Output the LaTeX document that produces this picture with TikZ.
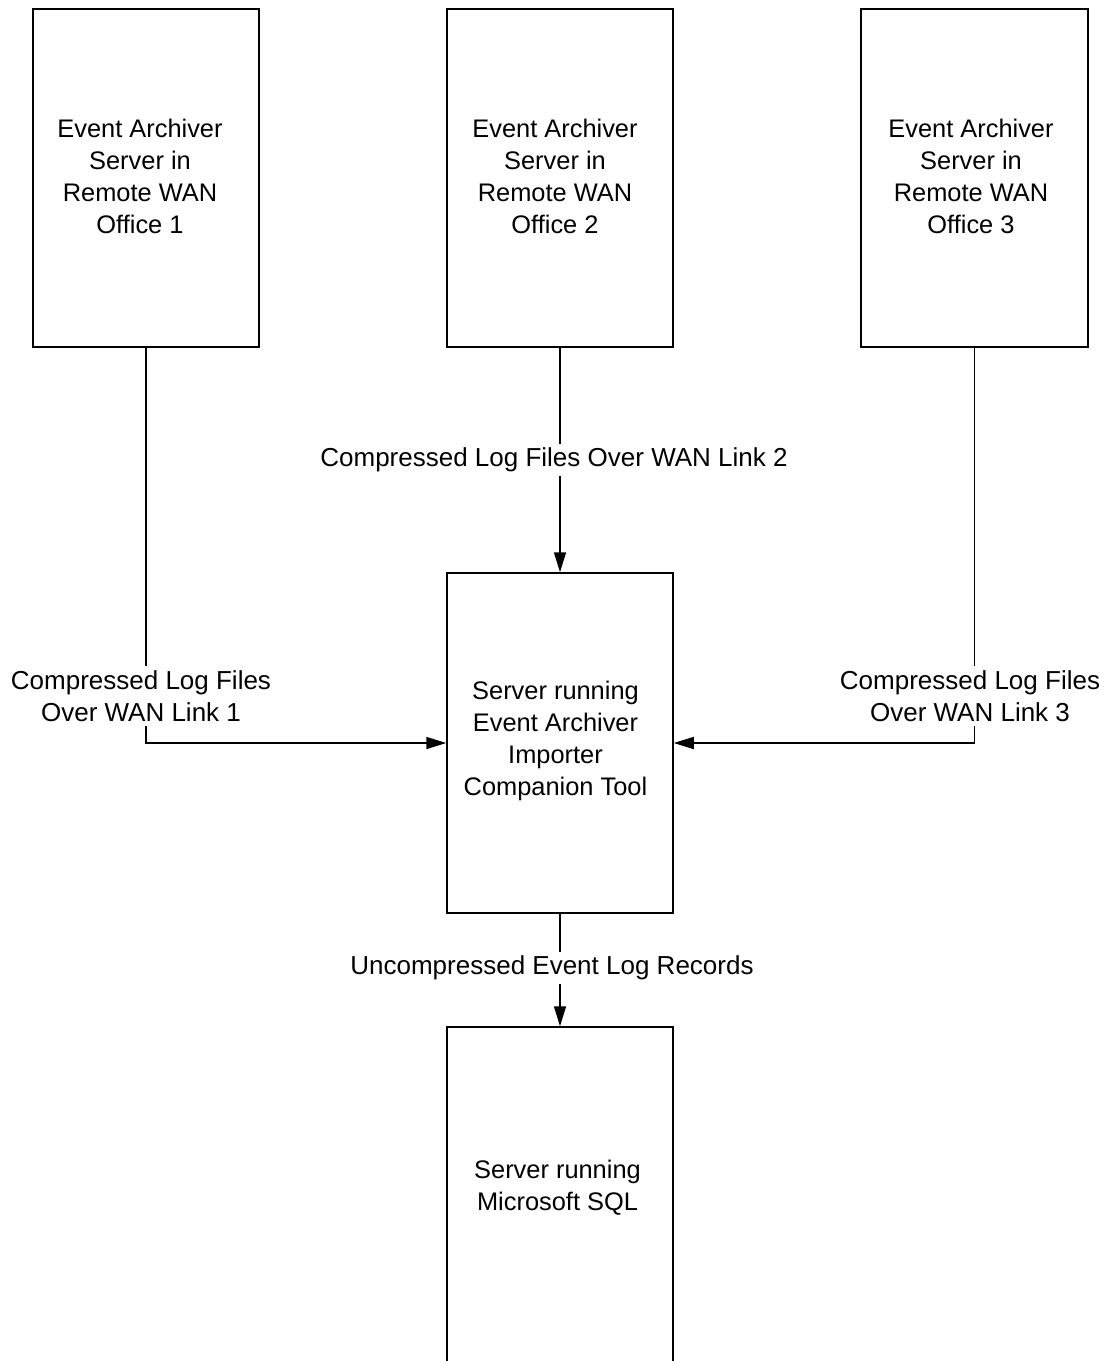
\documentclass[tikz,border=0pt]{standalone}
\usepackage{fontspec}
\setmainfont{Liberation Sans}
\usetikzlibrary{arrows.meta}
\begin{document}
\begin{tikzpicture}[x=1pt,y=-1pt,
  box/.style={draw, line width=1.5pt, minimum width=226pt, inner sep=0pt},
  txt/.style={align=center, inner sep=0pt, font=\fontsize{25.4}{32}\selectfont},
  lbl/.style={align=center, fill=white, inner sep=4pt, font=\fontsize{26}{32}\selectfont},
  conn/.style={line width=1.5pt, -{Triangle[length=20pt,width=12pt]}}]
\useasboundingbox (0,0) rectangle (1109,1361);
\fill[white] (0,0) rectangle (1109,1361);
% boxes
\node[box, minimum height=338pt] (b1) at (146,178) {};
\node[box, minimum height=338pt] (b2) at (560,178) {};
\node[box, minimum height=338pt, minimum width=227pt] (b3) at (974.5,178) {};
\node[box, minimum height=340pt] (hub) at (560,743) {};
\node[box, minimum height=353pt] (sql) at (560,1203.5) {};
% box texts
\node[txt] (t1) at (140,176) {Event Archiver\\Server in\\Remote WAN\\Office 1};
\node[txt] (t2) at (555,176) {Event Archiver\\Server in\\Remote WAN\\Office 2};
\node[txt] (t3) at (971,176) {Event Archiver\\Server in\\Remote WAN\\Office 3};
\node[txt] (th) at (555.5,741) {Server running\\Event Archiver\\Importer\\Companion Tool};
\node[txt] (ts) at (557.5,1188) {Server running\\Microsoft SQL};
% connectors
\draw[conn] (b1.south) |- (hub.west);
\draw[conn] (b3.south) |- (hub.east);
\draw[conn] (b2.south) -- (hub.north);
\draw[conn] (hub.south) -- (sql.north);
% labels
\node[lbl] (l1) at (141,696) {Compressed Log Files\\Over WAN Link 1};
\node[lbl] (l3) at (970,696) {Compressed Log Files\\Over WAN Link 3};
\node[lbl] (l2) at (554,460) {Compressed Log Files Over WAN Link 2};
\node[lbl] (l4) at (552,968) {Uncompressed Event Log Records};
\end{tikzpicture}
\end{document}
